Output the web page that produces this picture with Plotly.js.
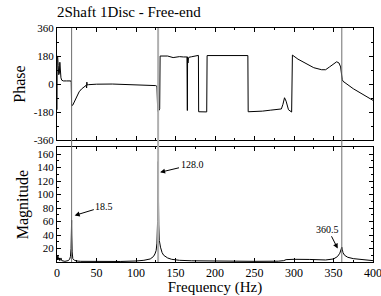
<!DOCTYPE html>
<html>
<head>
<meta charset="utf-8">
<script src="https://cdn.plot.ly/plotly-3.0.1.min.js"></script>
<style>html,body{margin:0;padding:0;background:#fff}#chart{width:381px;height:296px}</style>
</head>
<body>
<div id="chart"></div>
<script>
// Phase trace (Hz, degrees)
const phaseFreq = [0, 0.2, 0.8, 1.5, 2.2, 3, 3.6, 4.2, 5, 6, 8, 12, 17.5, 18, 18.5, 20, 21, 23, 25, 28, 31, 34, 36, 37, 37.5, 37.8, 38, 40, 50, 70, 90, 110, 125, 126.5, 127.5, 129, 130, 130.5, 135, 140, 147, 150, 155, 160, 164.5, 165, 165.3, 165.8, 166.4, 167, 170, 175, 179, 179.3, 185, 189.5, 190, 200, 220, 241.6, 242, 250, 260, 270, 280, 284, 286, 288, 290, 293, 297, 298, 305, 315, 325, 335, 340, 345, 350, 354, 357, 359, 361, 362, 375, 390, 400];
const phaseDeg  = [-165, 180, 178, 120, 60, 70, 140, 90, 40, 25, 20, 20, 20, 10, -140, -135, -125, -100, -78, -50, -32, -20, -15, -8, -25, 12, -6, -4, -1, 0, -2, -6, -10, -15, -175, -170, -160, 180, 178, 180, 170, 173, 176, 174, 174, -170, 175, 135, 168, 172, 175, 180, 184, -178, -178, -179, 183, 183, 183, 183, -178, -177, -174, -168, -165, -160, -130, -88, -110, -165, -180, 186, 160, 130, 105, 92, 92, 110, 130, 143, 135, 110, 30, 18, -30, -75, -105];

// Magnitude trace (Hz, amplitude)
const magFreq = [0, 0.5, 1, 1.5, 2, 2.5, 3, 3.5, 4.5, 5, 6, 8, 10, 14, 16, 17, 17.8, 18.3, 18.5, 18.7, 19.2, 20, 22, 25, 30, 50, 80, 100, 110, 118, 122, 124, 125.5, 126.5, 127.3, 127.8, 128, 128.3, 128.8, 129.5, 131, 133, 135, 140, 145, 155, 170, 200, 250, 280, 287, 290, 300, 320, 340, 350, 355, 358, 360, 360.5, 361, 362, 364, 368, 375, 385, 395, 400];
const magVal  = [8, 3, 9, 4, 7, 3, 6, 2, 4, 6, 2, 1.5, 1, 2, 4, 8, 20, 50, 62, 40, 15, 5, 2.5, 1.5, 1, 0.7, 0.8, 1.5, 2.5, 4.5, 8, 12, 17, 28, 60, 130, 149, 110, 55, 32, 22, 14, 10, 6, 4, 2.5, 1.8, 1.2, 1, 1.2, 2, 3.5, 4, 3.8, 3, 4.5, 8, 13, 20, 22, 19, 14, 10, 7, 5, 3.5, 2.5, 2];

// Marked peaks
const peakFreqs = [18.5, 128.0, 360.5];
const peakLabels = ["18.5", "128.0", "360.5"];

// Tick labels
const phaseTicks = [-360, -180, 0, 180, 360];
const magTicks = [20, 40, 60, 80, 100, 120, 140, 160];
const freqTicks = [0, 50, 100, 150, 200, 250, 300, 350, 400];

const serif = "Liberation Serif";

const traces = [
  {x: phaseFreq, y: phaseDeg, xaxis: 'x', yaxis: 'y', mode: 'lines',
   line: {color: '#000', width: 1}, hoverinfo: 'skip'},
  {x: magFreq, y: magVal, xaxis: 'x2', yaxis: 'y2', mode: 'lines',
   line: {color: '#000', width: 1}, hoverinfo: 'skip'}
];

const axBase = {
  showgrid: false, zeroline: false, showline: true, linecolor: '#000', linewidth: 1,
  mirror: 'allticks', ticks: 'inside', ticklen: 4, tickcolor: '#000', tickwidth: 1,
  ticklabeloverflow: 'allow',
  tickfont: {family: serif, size: 11, color: '#000'}
};

const lineStyles = [
  {color: '#6e6e6e', width: 1},
  {color: '#b0b0b0', width: 2},
  {color: '#6e6e6e', width: 1}
];

const shapes = peakFreqs.map((f, i) => ({
  type: 'line', xref: 'x2', yref: 'paper', x0: f, x1: f, y0: 0, y1: 1,
  line: lineStyles[i], layer: 'above'
}));

const annPos = [
  {x: 22.4, y: 69, ax: 59.9, ay: 82.4},
  {x: 130.5, y: 133, ax: 170.9, ay: 144.3},
  {x: 355.3, y: 20, ax: 343, ay: 48.5}
];

const annotations = peakLabels.map((t, i) => ({
  text: t, xref: 'x2', yref: 'y2', axref: 'x2', ayref: 'y2',
  x: annPos[i].x, y: annPos[i].y, ax: annPos[i].ax, ay: annPos[i].ay,
  showarrow: true, arrowhead: 2, arrowsize: 1, arrowwidth: 1, arrowcolor: '#000',
  font: {family: serif, size: 10, color: '#000'}
}));

const layout = {
  width: 381, height: 296,
  margin: {l: 57, r: 8, t: 28, b: 34, pad: 0},
  paper_bgcolor: '#fff', plot_bgcolor: '#fff',
  font: {family: serif, color: '#000'},
  showlegend: false,
  title: {text: '2Shaft 1Disc - Free-end', font: {family: serif, size: 15, color: '#000'},
          xref: 'container', yref: 'container', x: 57/381, xanchor: 'left', y: 1 - 12/296, yanchor: 'middle'},
  xaxis: Object.assign({}, axBase, {domain: [0, 1], anchor: 'y', range: [0, 400], matches: 'x2',
          tickvals: freqTicks, showticklabels: false,
          minor: {dtick: 25, tick0: 0, ticks: 'inside', ticklen: 2, tickcolor: '#000'}}),
  yaxis: Object.assign({}, axBase, {domain: [0.521, 1], anchor: 'x', range: [-360, 360],
          tickvals: phaseTicks, ticktext: phaseTicks.map(String),
          minor: {dtick: 90, tick0: 0, ticks: 'inside', ticklen: 2, tickcolor: '#000'},
          title: {text: 'Phase', font: {family: serif, size: 16, color: '#000'}, standoff: 4}}),
  xaxis2: Object.assign({}, axBase, {domain: [0, 1], anchor: 'y2', range: [0, 400],
          tickvals: freqTicks, ticktext: freqTicks.map(String),
          tickfont: {family: serif, size: 12, color: '#000'},
          minor: {dtick: 25, tick0: 0, ticks: 'inside', ticklen: 2, tickcolor: '#000'},
          title: {text: 'Frequency (Hz)', font: {family: serif, size: 15, color: '#000'}, standoff: 1}}),
  yaxis2: Object.assign({}, axBase, {domain: [0, 0.49], anchor: 'x2', range: [0, 170],
          tickvals: magTicks, ticktext: magTicks.map(String),
          minor: {dtick: 10, tick0: 0, ticks: 'inside', ticklen: 2, tickcolor: '#000'},
          title: {text: 'Magnitude', font: {family: serif, size: 16, color: '#000'}, standoff: 4}}),
  shapes: shapes,
  annotations: annotations
};

Plotly.newPlot('chart', traces, layout, {displayModeBar: false, staticPlot: true});
</script>
</body>
</html>
